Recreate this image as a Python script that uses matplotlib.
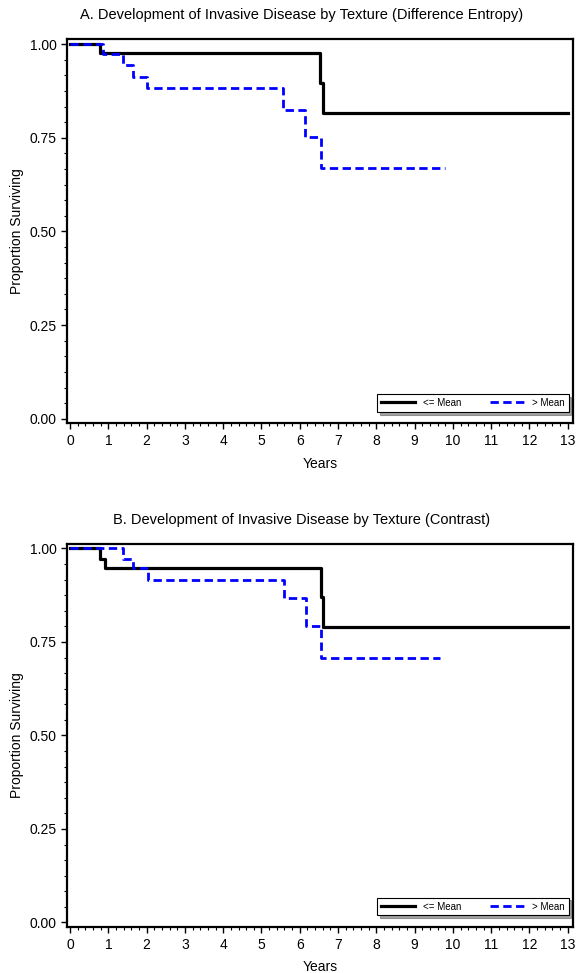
import matplotlib.pyplot as plt
from matplotlib.ticker import MultipleLocator, AutoMinorLocator

plt.rcParams['font.family'] = ['Liberation Sans', 'DejaVu Sans']

# Kaplan-Meier step values
# Panel A: Difference Entropy
a_low_t = [0, 0.78, 6.53, 6.60, 13.0]
a_low_s = [1.0, 0.975, 0.897, 0.815, 0.815]
a_high_t = [0, 0.87, 1.39, 1.64, 2.02, 5.57, 6.14, 6.55, 9.79]
a_high_s = [1.0, 0.973, 0.944, 0.913, 0.882, 0.825, 0.752, 0.669, 0.669]

# Panel B: Contrast
b_low_t = [0, 0.78, 0.91, 6.55, 6.60, 13.0]
b_low_s = [1.0, 0.973, 0.947, 0.870, 0.790, 0.790]
b_high_t = [0, 1.39, 1.65, 2.04, 5.59, 6.15, 6.55, 9.66]
b_high_s = [1.0, 0.973, 0.947, 0.917, 0.868, 0.794, 0.706, 0.706]

titles = ['A. Development of Invasive Disease by Texture (Difference Entropy)',
          'B. Development of Invasive Disease by Texture (Contrast)']
labels = ['<= Mean', '> Mean']
yticks = [0.0, 0.25, 0.5, 0.75, 1.0]

fig = plt.figure(figsize=(5.8, 9.73), dpi=100)
ax1 = fig.add_axes([0.1155, 0.565, 0.872, 0.3947])
ax2 = fig.add_axes([0.1155, 0.0473, 0.872, 0.394])

panels = [
    (ax1, a_low_t, a_low_s, a_high_t, a_high_s, 1 - 15 / 973),
    (ax2, b_low_t, b_low_s, b_high_t, b_high_s, 1 - 520 / 973),
]

for i, (ax, lt, ls, ht, hs, ty) in enumerate(panels):
    ax.step(lt, ls, where='post', color='black', lw=2.3, label=labels[0])
    ax.step(ht, hs, where='post', color='#0000ff', lw=2.0,
            linestyle=(0, (3, 1.6)), label=labels[1])
    ax.set_xlim(-0.08, 13.13)
    ax.set_ylim(-0.012, 1.013)
    ax.xaxis.set_major_locator(MultipleLocator(1))
    ax.xaxis.set_minor_locator(AutoMinorLocator(5))
    ax.set_yticks(yticks)
    ax.set_yticklabels(['%.2f' % v for v in yticks])
    ax.yaxis.set_minor_locator(AutoMinorLocator(6))
    ax.tick_params(which='major', direction='out', length=4, width=1, labelsize=10)
    ax.tick_params(which='minor', direction='out', length=2, width=0.8)
    ax.tick_params(axis='x', pad=4)
    for s in ax.spines.values():
        s.set_linewidth(1.6)
    ax.set_xlabel('Years', fontsize=10, labelpad=6)
    ax.set_ylabel('Proportion Surviving', fontsize=10, labelpad=4)
    fig.text(302 / 580, ty, titles[i], ha='center', va='center', fontsize=10.5)
    leg = ax.legend(loc='lower right', bbox_to_anchor=(0.992, 0.03), ncol=2,
                    fontsize=7, frameon=True, fancybox=False, shadow=True,
                    handlelength=3.5, columnspacing=3, borderaxespad=0,
                    borderpad=0.4)
    leg.get_frame().set_edgecolor('black')
    leg.get_frame().set_linewidth(0.8)

fig.savefig('out.png', dpi=100)
